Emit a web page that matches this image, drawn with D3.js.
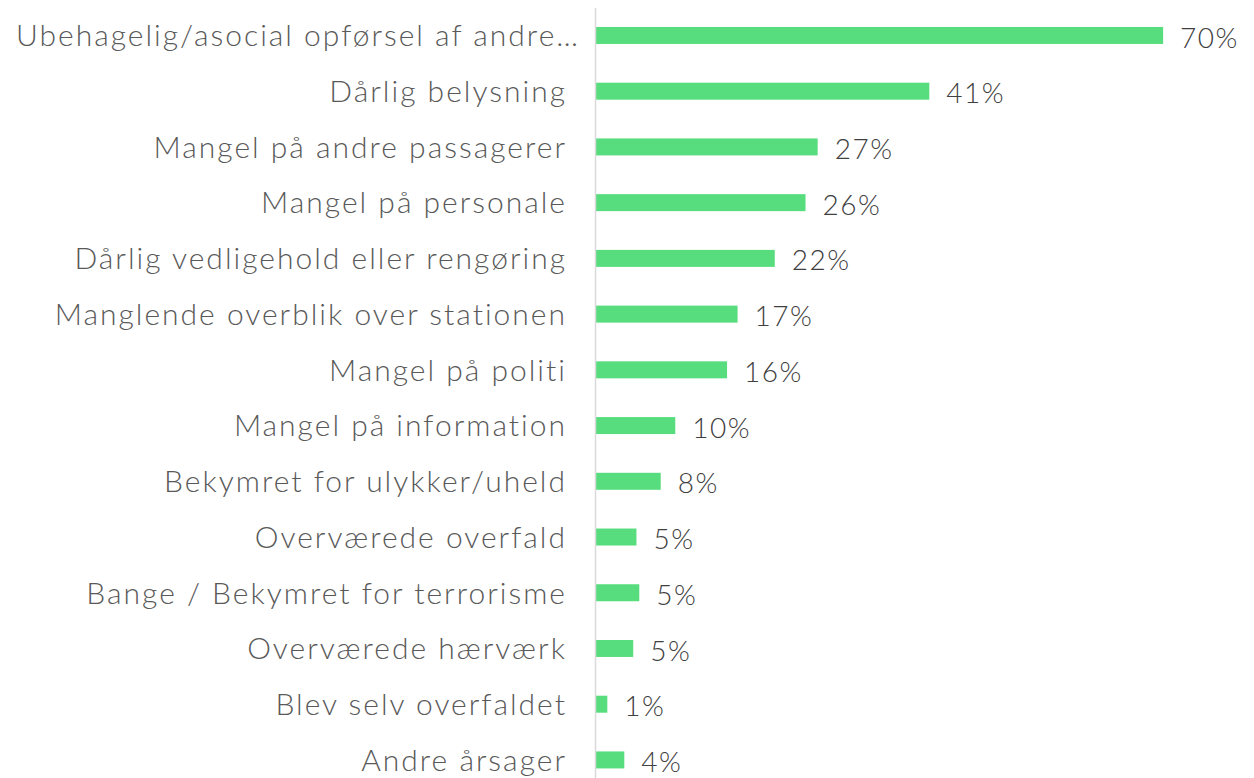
<!DOCTYPE html>
<html>
<head>
<meta charset="utf-8">
<script src="https://cdn.jsdelivr.net/npm/d3@7"></script>
<style>
  body { margin: 0; background: #fff; }
  svg { display: block; font-family: "Lato", "Open Sans", sans-serif; font-weight: 300; }
</style>
</head>
<body>
<div class="vis-container"></div>
<script>
var categories = [
  "Ubehagelig/asocial opførsel af andre…",
  "Dårlig belysning",
  "Mangel på andre passagerer",
  "Mangel på personale",
  "Dårlig vedligehold eller rengøring",
  "Manglende overblik over stationen",
  "Mangel på politi",
  "Mangel på information",
  "Bekymret for ulykker/uheld",
  "Overværede overfald",
  "Bange / Bekymret for terrorisme",
  "Overværede hærværk",
  "Blev selv overfaldet",
  "Andre årsager"
];
var values = [70.1, 41.2, 27.4, 25.9, 22.1, 17.5, 16.2, 9.8, 8.0, 5.0, 5.35, 4.6, 1.4, 3.5];
var valueLabels = ["70%", "41%", "27%", "26%", "22%", "17%", "16%", "10%", "8%", "5%", "5%", "5%", "1%", "4%"];

var width = 1254, height = 778;
var axisX = 595.5;

var svg = d3.select(".vis-container").append("svg")
  .attr("width", width)
  .attr("height", height);

var x = d3.scaleLinear()
  .domain([0, 75])
  .range([596, 596 + 75 * 8.09]);

var y = d3.scaleBand()
  .domain(categories)
  .range([7.6, 787.8])
  .paddingInner(0.695)
  .paddingOuter(0.3475);

//bars
svg.selectAll("rect.bar")
  .data(values)
  .enter().append("rect")
  .attr("class", "bar")
  .attr("x", x(0))
  .attr("y", function(d, i) { return y(categories[i]); })
  .attr("width", function(d) { return x(d) - x(0); })
  .attr("height", y.bandwidth())
  .attr("fill", "#58dd7e");

//axis line
svg.append("line")
  .attr("x1", axisX).attr("x2", axisX)
  .attr("y1", 8).attr("y2", height)
  .attr("stroke", "#d9d9d9")
  .attr("stroke-width", 1.5);

//category labels (letter-spacing leaves a trailing gap, so shift right by it)
svg.selectAll("text.cat")
  .data(categories)
  .enter().append("text")
  .attr("class", "cat")
  .attr("x", function(d, i) { return i === 0 ? 580 : 567; })
  .attr("y", function(d) { return y(d) + y.bandwidth() / 2; })
  .attr("dy", "0.36em")
  .attr("text-anchor", "end")
  .attr("fill", "#595959")
  .style("font-size", "30px")
  .style("letter-spacing", "2px")
  .text(function(d) { return d; });

//value labels
svg.selectAll("text.val")
  .data(values)
  .enter().append("text")
  .attr("class", "val")
  .attr("x", function(d) { return x(d) + 17; })
  .attr("y", function(d, i) { return y(categories[i]) + y.bandwidth() / 2; })
  .attr("dy", "0.43em")
  .attr("fill", "#404040")
  .style("font-size", "28px")
  .style("letter-spacing", "1.5px")
  .text(function(d, i) { return valueLabels[i]; });
</script>
</body>
</html>
